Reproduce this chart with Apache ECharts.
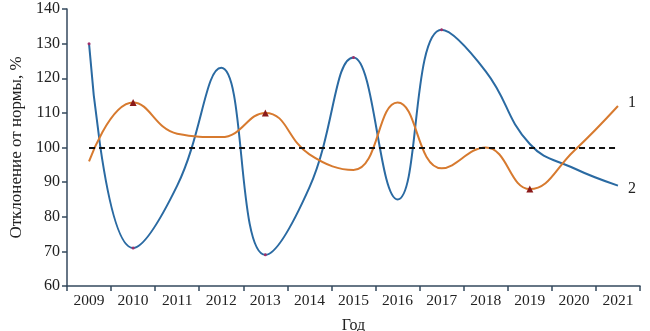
<!DOCTYPE html>
<html><head><meta charset="utf-8">
<script src="https://cdn.jsdelivr.net/npm/echarts@6/dist/echarts.min.js"></script>
<style>html,body{margin:0;padding:0;background:#fff}#c{width:650px;height:331px}</style>
</head><body><div id="c"></div>
<script>
const years = ['2009','2010','2011','2012','2013','2014','2015','2016','2017','2018','2019','2020','2021'];
const series1 = [96, 113, 104, 103, 110, 98, 93.5, 113, 94, 100, 88, 99, 112];
const series2 = [130, 71, 89, 123, 69, 88.5, 126, 85, 134, 122, 101, 94, 89];
const marked1 = [1, 4, 10];
const marked2 = [0, 1, 4, 6, 8];
const normValue = 100;
const yTicks = {min: 60, max: 140, interval: 10};

function toItems(vals, marks, sym, size, color) {
  return vals.map((v, i) => marks.includes(i)
    ? {value: v, symbol: sym, symbolSize: size, itemStyle: {color: color}}
    : {value: v, symbol: 'none'});
}

const font = 'Liberation Serif';
const axisColor = '#34495e';
const chart = echarts.init(document.getElementById('c'));
chart.setOption({
  animation: false,
  grid: {left: 67, right: 10, top: 9, bottom: 45, outerBoundsMode: 'none', containLabel: false},
  xAxis: {
    type: 'category', data: years, boundaryGap: true,
    name: 'Год', nameLocation: 'middle', nameGap: 32,
    nameTextStyle: {fontFamily: font, fontSize: 16, color: '#222'},
    axisLine: {lineStyle: {color: axisColor, width: 1.5}},
    axisTick: {show: true, length: 5, lineStyle: {color: axisColor, width: 1.5}},
    axisLabel: {fontFamily: font, fontSize: 15.5, color: '#222', margin: 7},
    splitLine: {show: false}
  },
  yAxis: {
    type: 'value', min: yTicks.min, max: yTicks.max, interval: yTicks.interval,
    name: 'Отклонение от нормы, %', nameLocation: 'middle', nameGap: 41,
    nameTextStyle: {fontFamily: font, fontSize: 17, color: '#222'},
    axisLine: {show: true, lineStyle: {color: axisColor, width: 1.5}},
    axisTick: {show: true, length: 5, lineStyle: {color: axisColor, width: 1.5}},
    axisLabel: {fontFamily: font, fontSize: 16, color: '#222', margin: 7},
    splitLine: {show: false}
  },
  series: [
    {
      name: '1', type: 'line', smooth: 0.45, z: 3,
      data: toItems(series1, marked1, 'triangle', 7, '#8b1a1a'),
      lineStyle: {color: '#d77a2f', width: 2},
      itemStyle: {color: '#d77a2f'},
      endLabel: {show: true, formatter: '1', fontFamily: font, fontSize: 16, color: '#222', offset: [2, -3]},
      markLine: {
        symbol: 'none', silent: true, label: {show: false},
        lineStyle: {color: '#111', type: [6, 4], width: 2},
        data: [[{coord: [years[0], normValue]}, {coord: [years[years.length - 1], normValue]}]]
      }
    },
    {
      name: '2', type: 'line', smooth: 0.45, z: 2,
      data: toItems(series2, marked2, 'circle', 3, '#a0306a'),
      lineStyle: {color: '#2a6aa2', width: 2},
      itemStyle: {color: '#2a6aa2'},
      endLabel: {show: true, formatter: '2', fontFamily: font, fontSize: 16, color: '#222', offset: [2, 3]}
    }
  ]
});
</script></body></html>
